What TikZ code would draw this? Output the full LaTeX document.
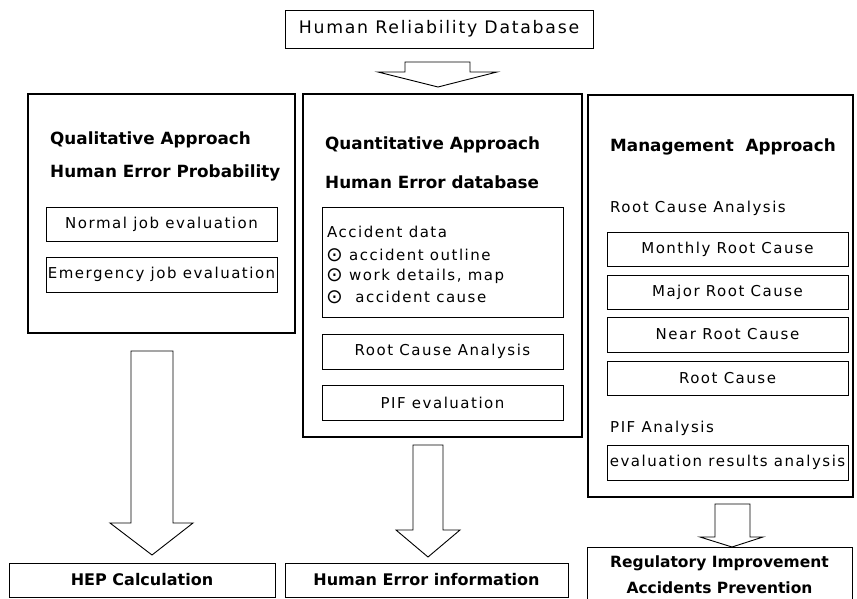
\documentclass[tikz,border=0pt]{standalone}
\usepackage{fontspec}
\setmainfont{DejaVu Sans}
\newfontfamily\spaced[LetterSpace=10]{DejaVu Sans}
\newfontfamily\plainsym{DejaVu Sans}
\newcommand{\bulletdot}{\raisebox{-1pt}{\plainsym\fontsize{20}{18}\selectfont ⊙}}
\begin{document}
\begin{tikzpicture}[x=1pt,y=-1pt,
  big/.style={draw, line width=2.6pt, inner sep=0pt},
  sbox/.style={draw, line width=0.9pt, inner sep=0pt, font=\spaced\fontsize{15}{18}\selectfont},
  bbox/.style={draw, line width=0.9pt, inner sep=0pt, font=\bfseries\fontsize{16}{19}\selectfont},
  title/.style={anchor=west, inner sep=0pt, font=\bfseries\fontsize{16.8}{19}\selectfont},
  plain/.style={anchor=west, inner sep=0pt, font=\spaced\fontsize{15}{18}\selectfont},
  barrow/.style={draw, line width=0.9pt, fill=white}]
\useasboundingbox (0,0) rectangle (857,599);
% top
\node[sbox, minimum width=308, minimum height=38, font=\spaced\fontsize{17.3}{20}\selectfont] (db) at (439,29) {Human Reliability Database};
% big boxes
\node[big, minimum width=267, minimum height=239] (L) at (161.5,213.5) {};
\node[big, minimum width=279, minimum height=343] (M) at (442.5,265.5) {};
\node[big, minimum width=265, minimum height=402] (R) at (720.5,296) {};
% left content
\node[title] (lt1) at (50,140) {Qualitative Approach};
\node[title] (lt2) at (50,173) {Human Error Probability};
\node[sbox, minimum width=231, minimum height=34] (nje) at (161.5,224) {Normal job evaluation};
\node[sbox, minimum width=231, minimum height=35] (eje) at (161.5,274.5) {Emergency job evaluation};
% middle content
\node[title] (mt1) at (325,145) {Quantitative Approach};
\node[title] (mt2) at (325,182) {Human Error database};
\node[sbox, minimum width=241, minimum height=110] (acc) at (442.5,262) {};
\node[plain] (a0) at (327,232) {Accident data};
\node[plain] (a1) at (326,255) {\bulletdot\ accident outline};
\node[plain] (a2) at (326,276) {\bulletdot\ work details, map};
\node[plain] (a3) at (326,297) {\bulletdot\ \ accident cause};
\node[sbox, minimum width=241, minimum height=35] (rca) at (442.5,351.5) {Root Cause Analysis};
\node[sbox, minimum width=241, minimum height=35] (pife) at (442.5,402.5) {PIF evaluation};
% right content
\node[title] (rt1) at (610,147) {Management\ \ Approach};
\node[plain] (rt2) at (610,208) {Root Cause Analysis};
\node[sbox, minimum width=241, minimum height=34] (mrc) at (727.5,249) {Monthly Root Cause};
\node[sbox, minimum width=241, minimum height=34] (jrc) at (727.5,292) {Major Root Cause};
\node[sbox, minimum width=241, minimum height=35] (nrc) at (727.5,334.5) {Near Root Cause};
\node[sbox, minimum width=241, minimum height=34] (rc) at (727.5,378) {Root Cause};
\node[plain] (pifa) at (610,428) {PIF Analysis};
\node[sbox, minimum width=241, minimum height=35] (era) at (727.5,462.5) {evaluation results analysis};
% bottom boxes
\node[bbox, minimum width=266, minimum height=34] (hep) at (142,580) {HEP Calculation};
\node[bbox, minimum width=283, minimum height=34] (hei) at (426.5,580) {Human Error information};
\node[bbox, minimum width=265, minimum height=56, align=center, font=\bfseries\fontsize{15.5}{26}\selectfont] (reg) at (719.5,575) {Regulatory Improvement\\Accidents Prevention};
% block arrows
\draw[barrow] (405,62) -- (470,62) -- (470,72) -- (497,72) -- (438,87) -- (378,72) -- (405,72) -- cycle;
\draw[barrow] (131,351) -- (173,351) -- (173,523) -- (193,523) -- (152,555) -- (110,523) -- (131,523) -- cycle;
\draw[barrow] (413,445) -- (443,445) -- (443,530) -- (460,530) -- (428,557) -- (396,530) -- (413,530) -- cycle;
\draw[barrow] (715,504) -- (750,504) -- (750,537) -- (763,537) -- (732,547) -- (700,537) -- (715,537) -- cycle;
\end{tikzpicture}
\end{document}
